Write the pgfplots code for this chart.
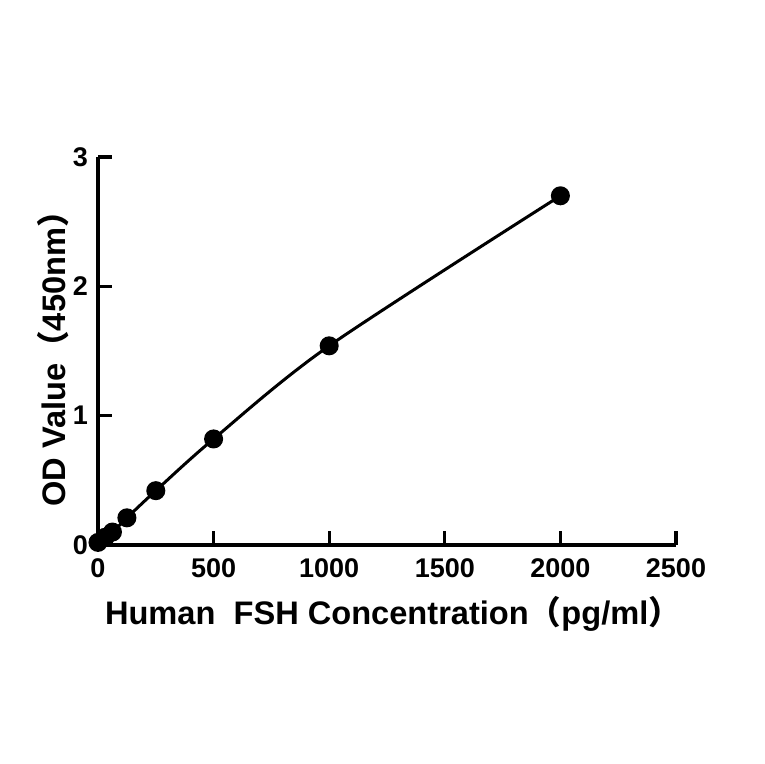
\documentclass[border=0pt]{standalone}
\usepackage{fontspec}
\setmainfont{Liberation Sans}
\newfontfamily\cjk{Noto Sans CJK SC}
\usepackage{pgfplots}
\pgfplotsset{compat=1.18}
\begin{document}
\begin{tikzpicture}
\begin{axis}[
	scale only axis,
	width = 289pt,
	height = 194pt,
	xmin = 0, xmax = 2500,
	ymin = 0, ymax = 3,
	xtick = {0, 500, 1000, 1500, 2000, 2500},
	ytick = {0, 1, 2, 3},
	axis x line* = bottom,
	axis y line* = left,
	axis line style = {line width=2pt},
	major tick length = 7pt,
	tick style = {line width=1.6pt, black},
	tick align = inside,
	scaled ticks = false,
	clip = false,
	/pgf/number format/assume math mode=true,
	/pgf/number format/1000 sep={},
	ticklabel style = {font=\fontsize{13.5}{15}\selectfont\bfseries},
	xticklabel style = {yshift=-3.5pt},
	yticklabel style = {xshift=-1.5pt},
	label style = {font=\fontsize{16.3}{18}\selectfont\bfseries},
	xlabel = {Human\ \ FSH Concentration{\cjk （}pg/ml{\cjk ）}},
	ylabel = {OD Value{\cjk （}450nm{\cjk ）}},
	xlabel style = {yshift=-2pt, xshift=3pt},
	ylabel style = {yshift=-5pt},
]
\addplot[black, line width=1.5pt, smooth, mark=*, mark size=4pt] coordinates {
	(0, 0.02)
	(31.25, 0.06)
	(62.5, 0.10)
	(125, 0.21)
	(250, 0.42)
	(500, 0.82)
	(1000, 1.54)
	(2000, 2.70)
};
\end{axis}
\path[use as bounding box] (current axis.origin) ++(-49pt, -109.5pt) rectangle ++(382pt, 382pt);
\end{tikzpicture}
\end{document}
